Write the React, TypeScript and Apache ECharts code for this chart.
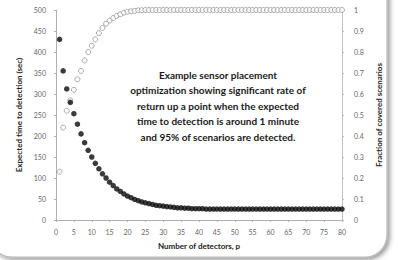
import React, { useEffect, useRef } from "react";
import * as echarts from "echarts";

const detectors: number[] = Array.from({ length: 80 }, (_, i) => i + 1);

const expectedTime: number[] = [
  430, 355, 312, 280, 253, 228, 205, 184, 166, 150,
  135, 122, 110, 100, 90, 82, 74, 68, 62, 57,
  53, 49, 46, 43, 41, 39, 37, 35, 34, 33,
  32, 31, 30, 29, 29, 28, 28, 27, 27, 27,
  27, 26, 26, 26, 26, 26, 26, 26, 26, 26,
  26, 26, 26, 26, 26, 26, 26, 26, 26, 26,
  26, 26, 26, 26, 26, 26, 26, 26, 26, 26,
  26, 26, 26, 26, 26, 26, 26, 26, 26, 26,
];

const fractionCovered: number[] = [
  0.23, 0.44, 0.52, 0.57, 0.62, 0.67, 0.71, 0.76, 0.8, 0.83,
  0.86, 0.89, 0.915, 0.935, 0.95, 0.962, 0.972, 0.98, 0.987, 0.991,
  0.994, 0.996, 0.998, 0.999, 1, 1, 1, 1, 1, 1,
  1, 1, 1, 1, 1, 1, 1, 1, 1, 1,
  1, 1, 1, 1, 1, 1, 1, 1, 1, 1,
  1, 1, 1, 1, 1, 1, 1, 1, 1, 1,
  1, 1, 1, 1, 1, 1, 1, 1, 1, 1,
  1, 1, 1, 1, 1, 1, 1, 1, 1, 1,
];

const annotationLines: string[] = [
  "Example sensor placement",
  "optimization showing significant rate of",
  "return up a point when the expected",
  "time to detection is around 1 minute",
  "and 95% of scenarios are detected.",
];

const FONT = "Lato, 'Open Sans', sans-serif";

export default function App() {
  const ref = useRef<HTMLDivElement>(null);
  useEffect(() => {
    if (!ref.current) return;
    const chart = echarts.init(ref.current, null, { renderer: "svg" });
    const axisLabel = { fontSize: 7, color: "#666", fontFamily: FONT };
    chart.setOption({
      animation: false,
      backgroundColor: "#ffffff",
      graphic: [
        {
          type: "rect",
          z: -10,
          shape: { x: -10, y: -30, width: 397, height: 287, r: 22 },
          style: {
            fill: "#ffffff",
            stroke: "#b8b8b8",
            lineWidth: 1.2,
            shadowBlur: 5,
            shadowColor: "rgba(0,0,0,0.45)",
            shadowOffsetX: 2,
            shadowOffsetY: 2,
          },
        },
        {
          type: "text",
          x: 218,
          y: 67,
          z: 10,
          style: {
            text: annotationLines.join("\n"),
            fill: "#1a1a1a",
            font: `bold 10px ${FONT}`,
            lineHeight: 15.5,
            align: "center",
            verticalAlign: "top",
          },
        },
      ],
      grid: { left: 56, right: 56, top: 10, bottom: 40 },
      xAxis: {
        type: "value",
        min: 0,
        max: 80,
        interval: 5,
        name: "Number of detectors, p",
        nameLocation: "middle",
        nameGap: 22,
        nameTextStyle: { fontSize: 8, fontWeight: "bold", color: "#222", fontFamily: FONT },
        axisLine: { show: true, lineStyle: { color: "#b0b0b0" } },
        axisTick: { show: true, length: 2, lineStyle: { color: "#b0b0b0" } },
        axisLabel: { ...axisLabel, margin: 8 },
        splitLine: { show: false },
      },
      yAxis: [
        {
          type: "value",
          min: 0,
          max: 500,
          interval: 50,
          name: "Expected time to detection (sec)",
          nameLocation: "middle",
          nameGap: 31,
          nameRotate: 90,
          nameTextStyle: { fontSize: 8, fontWeight: "bold", color: "#222", fontFamily: FONT },
          axisLine: { show: true, lineStyle: { color: "#b0b0b0" } },
          axisTick: { show: true, length: 2, lineStyle: { color: "#b0b0b0" } },
          axisLabel: { ...axisLabel, margin: 10 },
          splitLine: { show: false },
        },
        {
          type: "value",
          min: 0,
          max: 1,
          interval: 0.1,
          position: "right",
          name: "Fraction of covered scenarios",
          nameLocation: "middle",
          nameGap: 30,
          nameRotate: 90,
          nameTextStyle: { fontSize: 8, fontWeight: "bold", color: "#222", fontFamily: FONT },
          axisLine: { show: true, lineStyle: { color: "#c0c0c0" } },
          axisTick: { show: true, length: 2, lineStyle: { color: "#c0c0c0" } },
          axisLabel: {
            ...axisLabel,
            margin: 12,
            formatter: (v: number) => (v === 0 ? "0" : v === 1 ? "1" : v.toFixed(1)),
          },
          splitLine: { show: false },
        },
      ],
      series: [
        {
          type: "scatter",
          yAxisIndex: 1,
          symbol: "circle",
          symbolSize: 5,
          itemStyle: { color: "#ffffff", borderColor: "#8a8a8a", borderWidth: 0.9 },
          data: detectors.map((p, i) => [p, fractionCovered[i]]),
        },
        {
          type: "scatter",
          yAxisIndex: 0,
          symbol: "circle",
          symbolSize: 5.5,
          itemStyle: { color: "#0a0a0a" },
          data: detectors.map((p, i) => [p, expectedTime[i]]),
        },
      ],
    });
    return () => chart.dispose();
  }, []);
  return (
    <div
      ref={ref}
      style={{ position: "absolute", left: 0, top: 0, width: 398, height: 260 }}
    />
  );
}
